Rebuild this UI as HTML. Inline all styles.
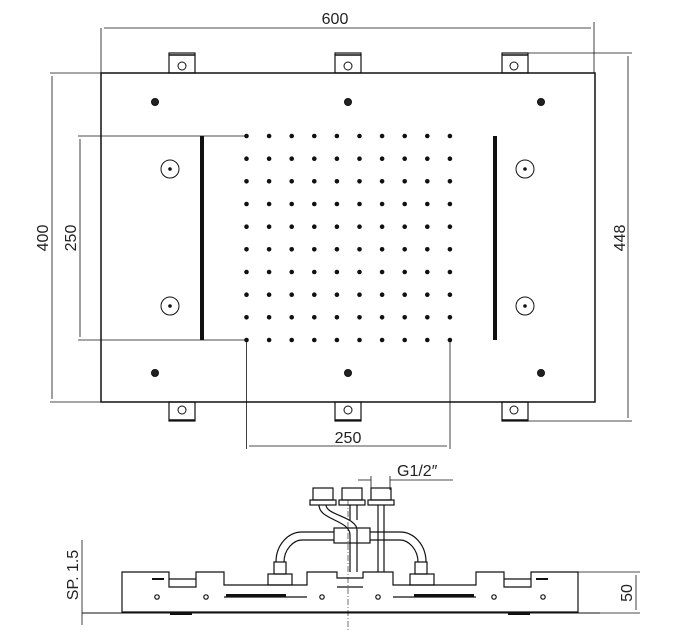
<!DOCTYPE html>
<html><head><meta charset="utf-8"><style>
html,body{margin:0;padding:0;background:#fff;}
svg{display:block;}
text{font-family:"Liberation Sans",sans-serif;fill:#222;}
</style></head><body>
<svg width="689" height="637" viewBox="0 0 689 637" xmlns="http://www.w3.org/2000/svg" xmlns:xlink="http://www.w3.org/1999/xlink">
<defs>
<g id="row" fill="#111">
<circle cx="246.5" cy="0" r="2.3"/><circle cx="269.1" cy="0" r="2.3"/><circle cx="291.7" cy="0" r="2.3"/><circle cx="314.3" cy="0" r="2.3"/><circle cx="336.9" cy="0" r="2.3"/><circle cx="359.5" cy="0" r="2.3"/><circle cx="382.1" cy="0" r="2.3"/><circle cx="404.7" cy="0" r="2.3"/><circle cx="427.3" cy="0" r="2.3"/><circle cx="449.9" cy="0" r="2.3"/>
</g>
</defs>
<use href="#row" xlink:href="#row" transform="translate(0,136)"/>
<use href="#row" xlink:href="#row" transform="translate(0,158.7)"/>
<use href="#row" xlink:href="#row" transform="translate(0,181.3)"/>
<use href="#row" xlink:href="#row" transform="translate(0,204)"/>
<use href="#row" xlink:href="#row" transform="translate(0,226.7)"/>
<use href="#row" xlink:href="#row" transform="translate(0,249.3)"/>
<use href="#row" xlink:href="#row" transform="translate(0,272)"/>
<use href="#row" xlink:href="#row" transform="translate(0,294.7)"/>
<use href="#row" xlink:href="#row" transform="translate(0,317.3)"/>
<use href="#row" xlink:href="#row" transform="translate(0,340)"/>
<g stroke="#111" fill="none" stroke-width="1">
<rect x="101" y="73" width="494" height="329" stroke-width="1.5"/>
<rect x="169" y="53" width="26" height="20" stroke-width="1.2"/>
<line x1="169" y1="55" x2="195" y2="55" stroke-width="1.5"/>
<rect x="335" y="53" width="26" height="20" stroke-width="1.2"/>
<line x1="335" y1="55" x2="361" y2="55" stroke-width="1.5"/>
<rect x="502" y="53" width="26" height="20" stroke-width="1.2"/>
<line x1="502" y1="55" x2="528" y2="55" stroke-width="1.5"/>
<circle cx="182" cy="66" r="4"/><circle cx="348" cy="66" r="4"/><circle cx="514" cy="66" r="4"/>
<rect x="169" y="402" width="26" height="19" stroke-width="1.2"/>
<line x1="169" y1="420" x2="195" y2="420" stroke-width="1.5"/>
<rect x="335" y="402" width="26" height="19" stroke-width="1.2"/>
<line x1="335" y1="420" x2="361" y2="420" stroke-width="1.5"/>
<rect x="502" y="402" width="26" height="19" stroke-width="1.2"/>
<line x1="502" y1="420" x2="528" y2="420" stroke-width="1.5"/>
<circle cx="182" cy="410" r="4"/><circle cx="348" cy="410" r="4"/><circle cx="514" cy="410" r="4"/>
<circle cx="170" cy="169" r="9"/><circle cx="170" cy="306" r="9"/>
<circle cx="525" cy="169" r="9"/><circle cx="525" cy="306" r="9"/>
<line x1="101" y1="28" x2="101" y2="73" stroke-width="0.8"/>
<line x1="594" y1="22" x2="594" y2="73" stroke-width="0.8"/>
<line x1="104" y1="28" x2="591" y2="28" stroke-width="0.8"/>
<line x1="50" y1="73" x2="101" y2="73" stroke-width="0.8"/>
<line x1="50" y1="402" x2="101" y2="402" stroke-width="0.8"/>
<line x1="52" y1="76" x2="52" y2="399" stroke-width="0.8"/>
<line x1="78" y1="136" x2="246" y2="136" stroke-width="0.8"/>
<line x1="78" y1="340" x2="246" y2="340" stroke-width="0.8"/>
<line x1="80" y1="139" x2="80" y2="337" stroke-width="0.8"/>
<line x1="528" y1="53" x2="632" y2="53" stroke-width="0.8"/>
<line x1="528" y1="421" x2="632" y2="421" stroke-width="0.8"/>
<line x1="628" y1="56" x2="628" y2="418" stroke-width="0.8"/>
<line x1="246.5" y1="340" x2="246.5" y2="449" stroke-width="0.8"/>
<line x1="450" y1="340" x2="450" y2="449" stroke-width="0.8"/>
<line x1="249" y1="446" x2="447" y2="446" stroke-width="0.8"/>
</g>
<rect x="200" y="136" width="4" height="204" fill="#111"/>
<rect x="493" y="136" width="4" height="204" fill="#111"/>
<g fill="#222" stroke="#111">
<circle cx="155" cy="102" r="3.5"/><circle cx="348" cy="102" r="3.5"/><circle cx="541" cy="102" r="3.5"/>
<circle cx="155" cy="373" r="3.5"/><circle cx="348" cy="373" r="3.5"/><circle cx="541" cy="373" r="3.5"/>
</g>
<g fill="#111">
<circle cx="170" cy="169" r="1.8"/><circle cx="170" cy="306" r="1.8"/>
<circle cx="525" cy="169" r="1.8"/><circle cx="525" cy="306" r="1.8"/>
</g>
<text x="335" y="24" font-size="16" text-anchor="middle">600</text>
<text x="348" y="443" font-size="16" text-anchor="middle">250</text>
<text transform="translate(48,238) rotate(-90)" font-size="16" text-anchor="middle">400</text>
<text transform="translate(76,238) rotate(-90)" font-size="16" text-anchor="middle">250</text>
<text transform="translate(625,238) rotate(-90)" font-size="16" text-anchor="middle">448</text>

<g stroke="#111" fill="none" stroke-width="1.2">
<path d="M122 612 V572 H169 V587 H196 V572 H224 V585 H307 V572 H337 V578 H363 V572 H393 V585 H476 V572 H504 V587 H531 V572 H578 V612 Z"/>
<line x1="169" y1="579" x2="196" y2="579"/>
<line x1="504" y1="579" x2="531" y2="579"/>
<line x1="224" y1="597" x2="307" y2="597"/>
<line x1="393" y1="597" x2="476" y2="597"/>
<line x1="337" y1="587" x2="363" y2="587"/>
<line x1="82" y1="613" x2="600" y2="613" stroke-width="1"/>
<line x1="82" y1="540" x2="82" y2="625" stroke-width="0.8"/>
<line x1="578" y1="572" x2="640" y2="572" stroke-width="0.8"/>
<line x1="578" y1="613" x2="640" y2="613" stroke-width="0.8"/>
<line x1="636" y1="575" x2="636" y2="610" stroke-width="0.8"/>
<circle cx="157" cy="597" r="2.2"/><circle cx="206" cy="597" r="2.2"/><circle cx="322" cy="597" r="2.2"/>
<circle cx="378" cy="597" r="2.2"/><circle cx="494" cy="597" r="2.2"/><circle cx="543" cy="597" r="2.2"/>
<line x1="348" y1="500" x2="348" y2="630" stroke-width="0.6" stroke-dasharray="6,2,1,2"/>
<rect x="313" y="488" width="20" height="12"/><rect x="310" y="500" width="26" height="5"/>
<rect x="342" y="488" width="20" height="12"/><rect x="339" y="500" width="26" height="5"/>
<rect x="371" y="488" width="20" height="12"/><rect x="368" y="500" width="26" height="5"/>
<path d="M319 505 C319 520 350 520 350 535 V572"/>
<path d="M326 505 C326 515 357 517 357 530 V572"/>
<line x1="350" y1="505" x2="350" y2="520"/><line x1="357" y1="505" x2="357" y2="520"/>
<line x1="378" y1="505" x2="378" y2="572"/><line x1="384" y1="505" x2="384" y2="572"/>
<rect x="334" y="528" width="36" height="15"/>
<path d="M334 532 H302 C288 532 276 545 276 562"/>
<path d="M334 540 H302 C293 540 284 550 284 562"/>
<path d="M370 532 H400 C414 532 426 545 426 562"/>
<path d="M370 540 H400 C409 540 418 550 418 562"/>
<rect x="274" y="562" width="12" height="12"/><rect x="268" y="574" width="24" height="11"/>
<rect x="415" y="562" width="12" height="12"/><rect x="410" y="574" width="24" height="11"/>
<line x1="358" y1="480" x2="371" y2="480" stroke-width="0.8"/>
<line x1="390" y1="480" x2="453" y2="480" stroke-width="0.8"/>
<line x1="371" y1="476" x2="371" y2="490" stroke-width="0.8"/>
<line x1="390" y1="476" x2="390" y2="490" stroke-width="0.8"/>
</g>
<g fill="#111">
<rect x="152" y="578" width="12" height="2"/><rect x="536" y="578" width="12" height="2"/>
<rect x="226" y="594" width="60" height="3"/><rect x="414" y="594" width="60" height="3"/>
<rect x="170" y="612" width="22" height="3"/><rect x="508" y="612" width="22" height="3"/>
</g>
<text x="397" y="476" font-size="16">G1/2″</text>
<text transform="translate(78,575) rotate(-90)" font-size="16" text-anchor="middle">SP. 1.5</text>
<text transform="translate(632,593) rotate(-90)" font-size="16" text-anchor="middle">50</text>
</svg>
</body></html>
